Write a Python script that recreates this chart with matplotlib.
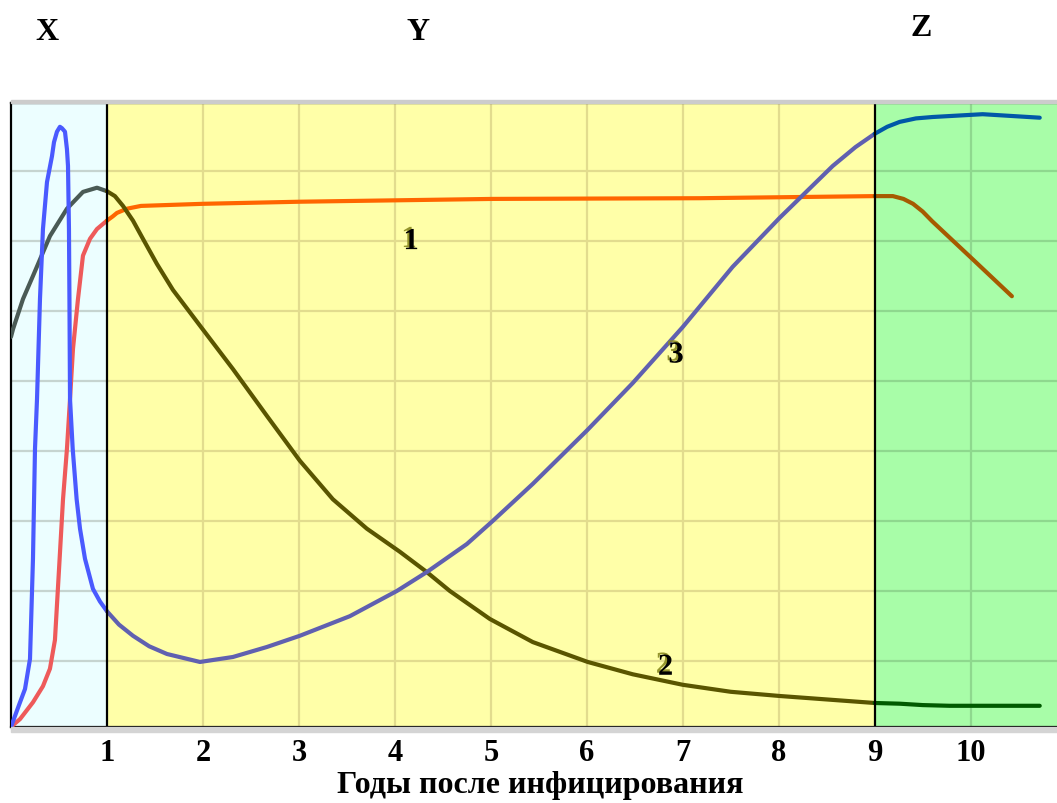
import matplotlib
matplotlib.use('Agg')
import matplotlib.pyplot as plt
import matplotlib.patheffects as pe
from matplotlib.patches import Rectangle

# SEGMENT LIMITS (YEARS)
x_end = 10.9

# CURVE 1 - RED / ORANGE / BROWN
c1_x_a = [0, 0.094, 0.229, 0.333, 0.406, 0.458, 0.5, 0.542, 0.583, 0.615, 0.646, 0.698, 0.75, 0.823, 0.896, 1.0]
c1_y_a = [0.06, 0.17, 0.41, 0.64, 0.89, 1.3, 2.3, 3.31, 4.03, 4.74, 5.46, 6.17, 6.79, 7.03, 7.17, 7.29]
c1_x_b = [1.0, 1.06, 1.104, 1.208, 1.354, 2.0, 3.01, 5.02, 7.18, 9.0]
c1_y_b = [7.29, 7.35, 7.4, 7.46, 7.5, 7.53, 7.56, 7.6, 7.61, 7.64]
c1_x_c = [9.0, 9.19, 9.3, 9.4, 9.5, 9.6, 10.02, 10.43]
c1_y_c = [7.64, 7.64, 7.6, 7.53, 7.42, 7.28, 6.74, 6.21]

# CURVE 2 - GRAY / OLIVE / DARK GREEN
c2_x_a = [0, 0.021, 0.125, 0.229, 0.406, 0.583, 0.75, 0.896, 1.0]
c2_y_a = [5.63, 5.74, 6.17, 6.5, 7.07, 7.46, 7.7, 7.76, 7.71]
c2_x_b = [1.0, 1.083, 1.167, 1.271, 1.375, 1.521, 1.6875, 1.969, 2.3125, 2.667, 3.01, 3.354, 3.708,
          4.052, 4.333, 4.573, 4.99, 5.4375, 6.01, 6.479, 7.0, 7.5, 8.01, 9.0]
c2_y_b = [7.71, 7.64, 7.5, 7.29, 7.03, 6.67, 6.3, 5.79, 5.17, 4.5, 3.86, 3.31, 2.89,
          2.56, 2.27, 2.0, 1.6, 1.27, 0.986, 0.81, 0.66, 0.56, 0.5, 0.4]
c2_x_c = [9.0, 9.26, 9.5, 9.78, 10.125, 10.72]
c2_y_c = [0.4, 0.39, 0.37, 0.36, 0.36, 0.36]

# CURVE 3 - BLUE SPIKE / PURPLE / DARK BLUE
c3_x_a = [0, 0.094, 0.146, 0.198, 0.229, 0.25, 0.271, 0.302, 0.333, 0.375, 0.427, 0.448, 0.479, 0.51, 0.531,
          0.5625, 0.583, 0.594, 0.604, 0.609, 0.615, 0.643, 0.684, 0.719, 0.771, 0.854, 0.927, 1.0]
c3_y_a = [0.06, 0.41, 0.6, 1.03, 2.46, 4.03, 4.74, 6.17, 7.17, 7.84, 8.21, 8.41, 8.56, 8.63, 8.61,
          8.56, 8.31, 8.07, 7.17, 6.17, 4.74, 4.03, 3.31, 2.89, 2.46, 2.03, 1.85, 1.71]
c3_x_b = [1.0, 1.125, 1.271, 1.44, 1.625, 1.969, 2.3125, 2.667, 3.01, 3.531, 4.021, 4.333, 4.75, 5.02,
          5.4375, 6.0, 6.479, 7.0, 7.52, 8.01, 8.219, 8.5625, 8.8, 9.0]
c3_y_b = [1.71, 1.52, 1.36, 1.21, 1.1, 0.986, 1.057, 1.2, 1.36, 1.64, 2.0, 2.27, 2.67, 3.0,
          3.53, 4.29, 4.97, 5.77, 6.63, 7.33, 7.61, 8.07, 8.34, 8.53]
c3_x_c = [9.0, 9.13, 9.26, 9.43, 9.604, 10.125, 10.72]
c3_y_c = [8.53, 8.63, 8.7, 8.75, 8.77, 8.81, 8.76]

# CURVE NUMBERS
curve_labels = ['1', '3', '2']
label_x = [4.17, 6.93, 6.82]
label_y = [6.99, 5.37, 0.91]

# AXIS TICKS AND TITLES
years = [1, 2, 3, 4, 5, 6, 7, 8, 9, 10]
stage_names = ['X', 'Y', 'Z']
x_title = 'Годы после инфицирования'

W, H = 1057, 804
fig = plt.figure(figsize=(W / 100, H / 100), dpi=100)
ax = fig.add_axes([11 / W, (H - 728) / H, (W - 11) / W, 624 / H])
ax.set_xlim(0, x_end)
ax.set_ylim(0.057, 8.97)

# SHADOW ABOVE AND BELOW THE FRAME
fig.patches.append(Rectangle((11 / W, 1 - 104 / H), 1, 3 / H, transform=fig.transFigure,
                             color='#cccccc', zorder=0))
fig.patches.append(Rectangle((11 / W, 1 - 733 / H), 1, 5 / H, transform=fig.transFigure,
                             color='#d4d4d4', zorder=0))

# BACKGROUND ZONES
ax.axvspan(0, 1, color='#ecfeff', zorder=0)
ax.axvspan(1, 9, color='#ffffa8', zorder=0)
ax.axvspan(9, x_end, color='#a8fda8', zorder=0)

# GRID
for yy in range(1, 9):
    ax.plot([0, 1], [yy, yy], color='#c6d4d0', lw=1.6, zorder=1)
    ax.plot([1, 9], [yy, yy], color='#e2dc8e', lw=1.6, zorder=1)
    ax.plot([9, x_end], [yy, yy], color='#8ed88e', lw=1.6, zorder=1)
for xx in years:
    if xx in (1, 9):
        continue
    col = '#8ed88e' if xx > 9 else '#e2dc8e'
    ax.axvline(xx, color=col, lw=1.6, zorder=1)
ax.axvline(1, color='black', lw=1.6, zorder=4)
ax.axvline(9, color='black', lw=1.6, zorder=4)

# CURVES
kw = dict(lw=3.0, zorder=3, solid_capstyle='round', solid_joinstyle='round')
ax.plot(c1_x_a, c1_y_a, color='#ee5a5a', **kw)
ax.plot(c1_x_b, c1_y_b, color='#ff6600', **kw)
ax.plot(c1_x_c, c1_y_c, color='#a65a00', **kw)
ax.plot(c2_x_a, c2_y_a, color='#4a5a55', **kw)
ax.plot(c2_x_b, c2_y_b, color='#5a5500', **kw)
ax.plot(c2_x_c, c2_y_c, color='#005a00', **kw)
ax.plot(c3_x_a, c3_y_a, color='#4a5aff', **kw)
ax.plot(c3_x_b, c3_y_b, color='#6060b0', **kw)
ax.plot(c3_x_c, c3_y_c, color='#0058a8', **kw)

# CURVE NUMBERS WITH SHADOW
for t, lx, ly in zip(curve_labels, label_x, label_y):
    ax.text(lx, ly, t, fontsize=22, fontweight='bold', family='Liberation Serif',
            ha='center', va='center', color='black', zorder=5,
            path_effects=[pe.withSimplePatchShadow(offset=(-1.5, 1.5), shadow_rgbFace='#8a8a20', alpha=0.9)])

# FRAME AND TICKS
for s in ['left', 'top', 'bottom']:
    ax.spines[s].set_linewidth(1.6)
    ax.spines[s].set_color('black')
ax.spines['right'].set_visible(False)
ax.set_yticks([])
ax.set_xticks(years)
ax.set_xticklabels([str(y) for y in years], fontsize=22, fontweight='bold', family='Liberation Serif')
ax.tick_params(axis='x', length=0, pad=8)

# TITLES
title_px = [(47, 33), (418, 33), (921, 28)]
for name, (px, py) in zip(stage_names, title_px):
    fig.text(px / W, 1 - py / H, name, fontsize=23, fontweight='bold', family='Liberation Serif',
             ha='center', va='center')
fig.text(540 / W, 1 - 786 / H, x_title, fontsize=23, fontweight='bold', family='Liberation Serif',
         ha='center', va='center')

fig.savefig('out.png', dpi=100)
